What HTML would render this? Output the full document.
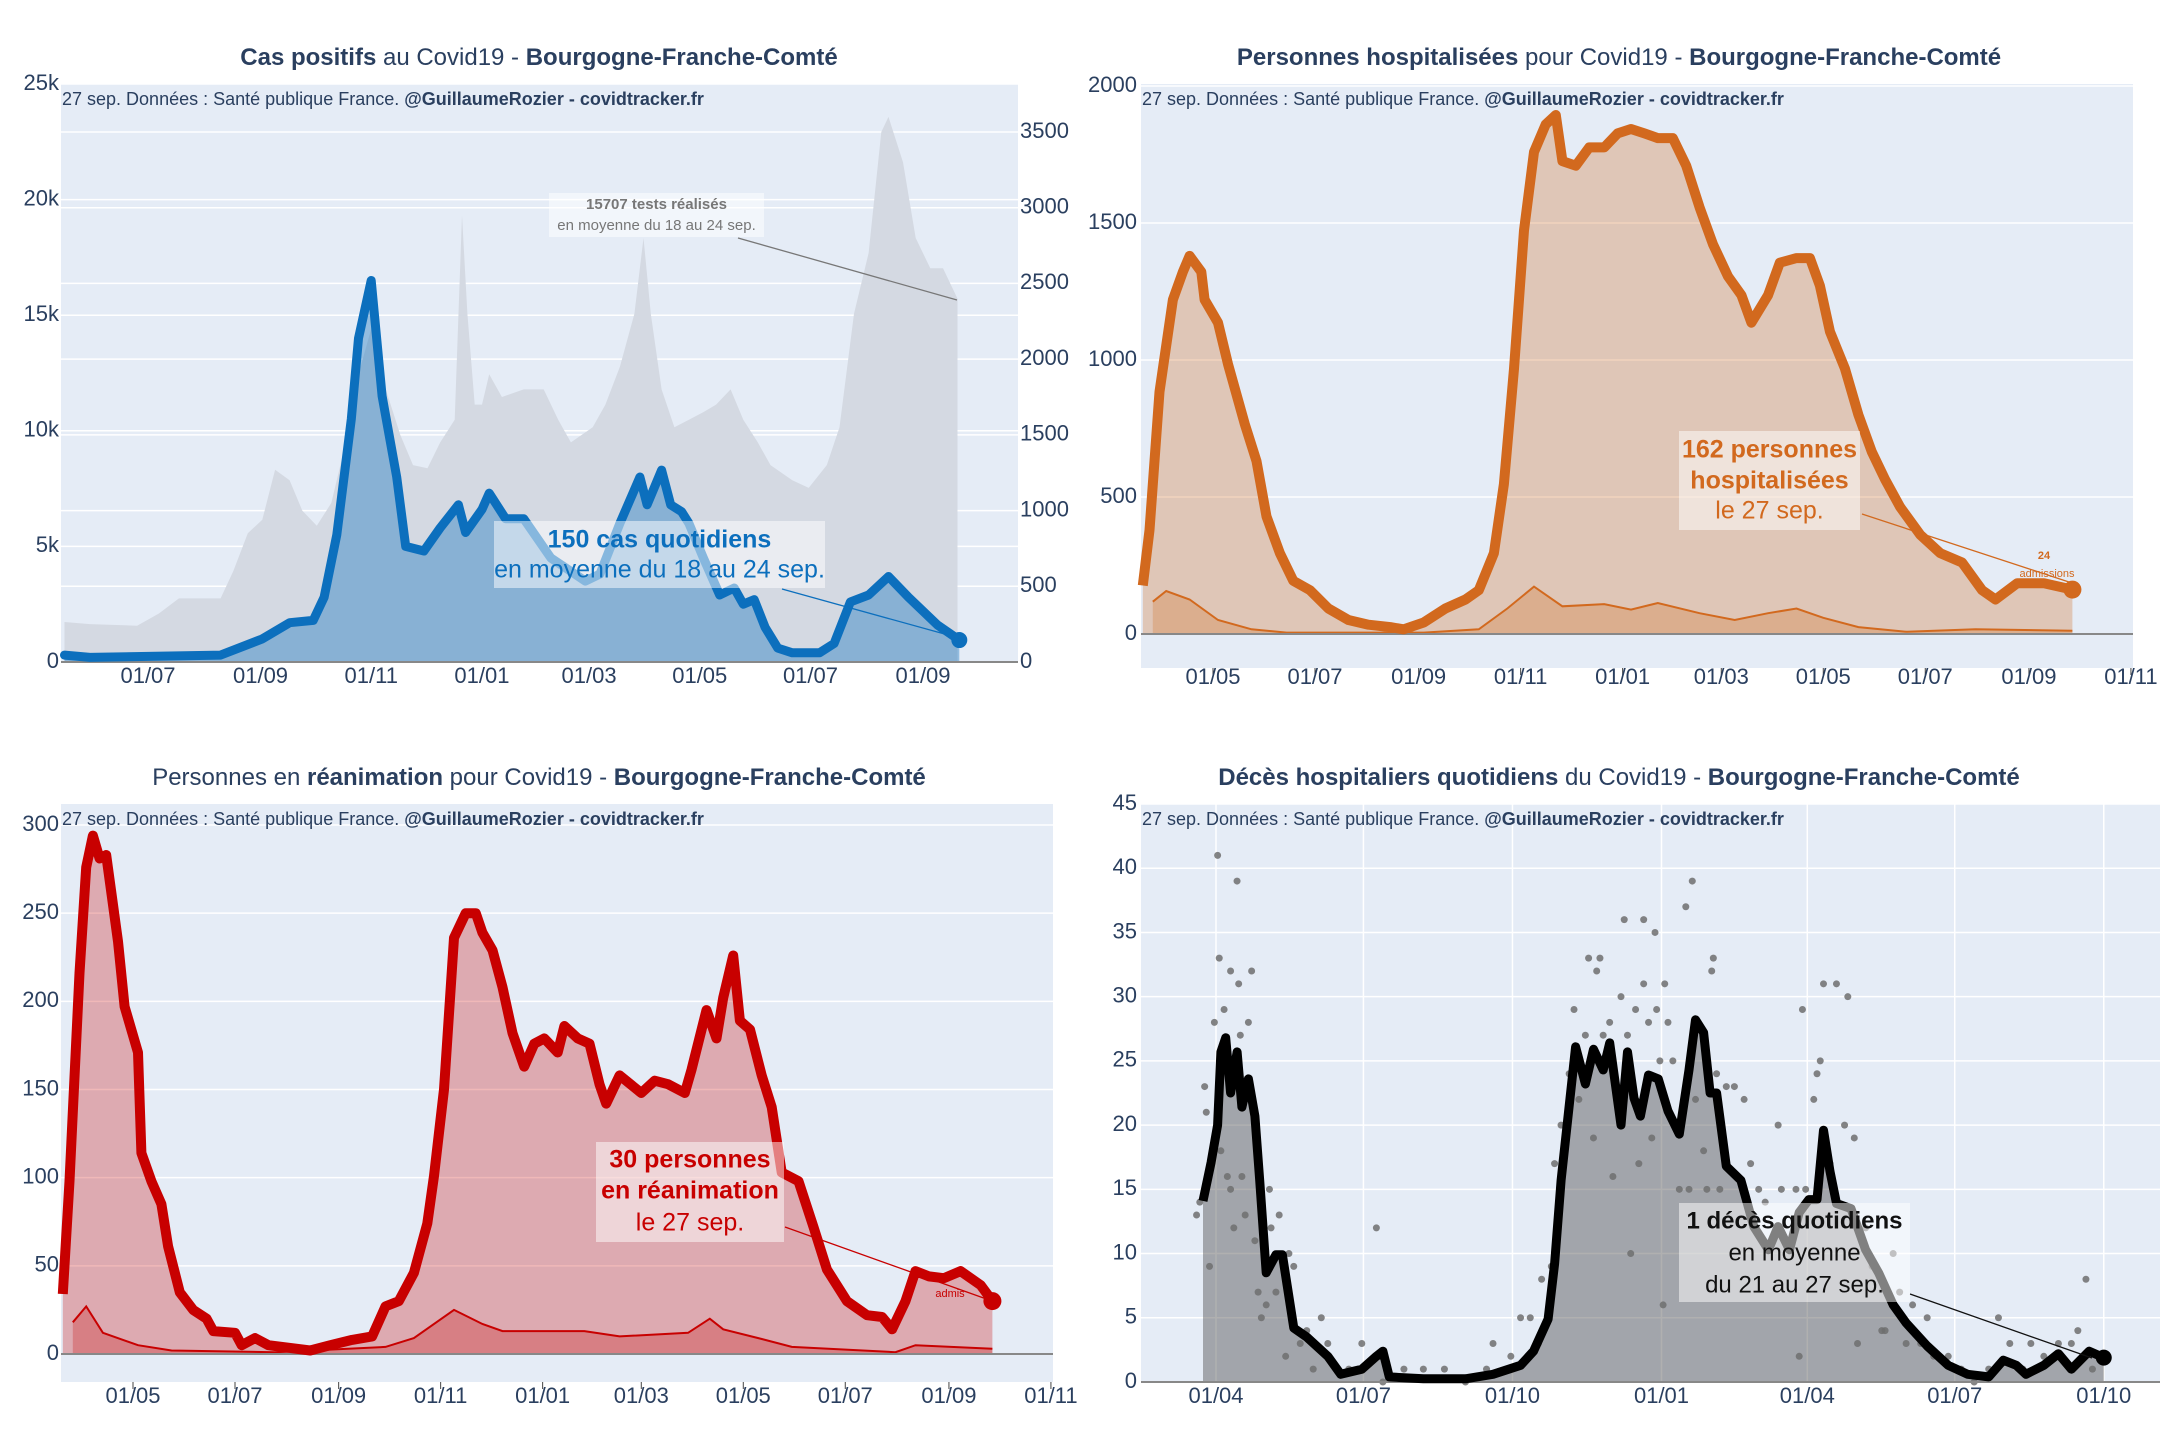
<!DOCTYPE html>
<html><head><meta charset="utf-8">
<style>
html,body{margin:0;padding:0;background:#fff;}
svg{display:block;font-family:"Liberation Sans",sans-serif;}
</style></head>
<body>
<svg id="root" width="2160" height="1440" viewBox="0 0 2160 1440" xmlns="http://www.w3.org/2000/svg"></svg>
<script>
// ---------- Chart 1: cases (days since 2020-07-01) ----------
const casesDays = [-46,-32,40,63,78,91,97,104,112,116,123,129,137,142,152,161,171,175,184,188,197,207,222,241,249,260,271,275,283,288,294,298,306,315,323,328,334,340,347,355,370,378,387,397,408,419,435,447];
const casesValues = [300,200,300,1000,1700,1800,2800,5500,10500,14000,16500,11500,8000,5000,4800,5800,6800,5600,6600,7300,6200,6200,4500,3500,3800,6000,8000,6800,8300,6800,6500,6000,4500,2900,3200,2500,2700,1500,600,400,400,800,2600,2900,3700,2800,1600,950];
const testsDays = [-46,-32,-6,6,17,40,47,55,63,70,78,85,93,101,108,116,123,131,139,146,154,161,169,173,176,180,184,188,195,207,218,226,233,245,252,260,268,273,277,283,290,298,306,313,321,328,336,343,355,364,374,381,389,397,404,408,416,423,431,438,446];
const testsValues = [264,250,240,320,420,420,600,850,940,1270,1200,1000,900,1050,1400,1900,2200,1800,1500,1300,1280,1450,1600,2950,2300,1700,1700,1900,1750,1800,1800,1600,1450,1550,1700,1950,2300,2800,2300,1800,1550,1600,1650,1700,1800,1600,1450,1300,1200,1150,1300,1550,2300,2700,3500,3600,3300,2800,2600,2600,2400];
const c1XTicks = ['01/07','01/09','01/11','01/01','01/03','01/05','01/07','01/09'];
const c1XTickDays = [0,62,123,184,243,304,365,427];
const c1YTicks = [0,5000,10000,15000,20000,25000];
const c1YLabels = ['0','5k','10k','15k','20k','25k'];
const c1RTicks = [0,500,1000,1500,2000,2500,3000,3500];

// ---------- Chart 2: hospitalisations (days since 2020-05-01) ----------
const hospDays = [-42,-38,-32,-24,-18,-14,-7,-5,3,9,19,26,32,40,48,58,69,81,93,106,114,126,139,151,159,168,174,180,186,192,199,205,209,217,225,234,242,250,258,266,275,283,291,299,308,316,322,332,339,349,357,363,369,378,386,394,402,411,423,435,448,460,468,481,497,514];
const hospValues = [177,379,884,1220,1322,1380,1322,1220,1136,985,766,631,429,295,194,160,93,51,34,25,17,42,93,126,160,295,547,968,1473,1759,1860,1894,1726,1709,1776,1776,1827,1843,1827,1810,1810,1709,1557,1423,1305,1237,1136,1237,1355,1372,1372,1271,1103,968,800,665,564,463,362,295,261,160,126,185,185,162];
const hospAdmDays = [-36,-28,-14,3,23,44,126,159,176,192,209,234,250,266,291,312,332,349,365,386,415,456,514];
const hospAdmValues = [118,157,126,51,17,5,5,17,93,173,101,109,89,113,76,51,76,93,59,25,8,17,12];
const c2XTicks = ['01/05','01/07','01/09','01/11','01/01','01/03','01/05','01/07','01/09','01/11'];
const c2XTickDays = [0,61,123,184,245,304,365,426,488,549];
const c2YTicks = [0,500,1000,1500,2000];

// ---------- Chart 3: reanimation (days since 2020-05-01) ----------
const reaDays = [-42,-38,-32,-28,-24,-20,-16,-9,-5,3,5,11,17,21,28,36,44,48,61,65,73,81,106,118,131,143,151,159,168,176,180,186,192,199,205,209,215,221,227,234,240,246,254,258,266,273,279,283,291,304,312,320,330,334,343,349,353,359,363,369,376,382,388,398,407,415,427,439,448,454,462,468,476,485,495,507,514];
const reaValues = [34,98,216,276,294,281,283,234,197,171,114,98,85,61,35,25,20,13,12,5,9,5,2,5,8,10,27,30,46,74,101,150,236,250,250,239,229,208,182,163,176,179,171,186,179,176,153,142,158,148,155,153,148,161,195,179,202,226,189,184,158,140,103,98,72,48,30,22,21,14,30,47,44,43,47,39,30];
const reaAdmDays = [-36,-28,-18,3,23,85,151,168,192,209,221,270,291,332,345,353,374,394,456,468,514];
const reaAdmValues = [18,27,12,5,2,1,4,9,25,17,13,13,10,12,20,14,9,4,1,5,3];
const c3YTicks = [0,50,100,150,200,250,300];

// ---------- Chart 4: deaths (days since 2020-04-01) ----------
const deathDays = [-8,-3,1,3,6,9,13,16,20,24,27,31,37,41,48,56,69,77,90,99,103,107,128,154,171,188,196,205,209,213,222,228,233,239,243,250,254,258,262,267,273,279,286,292,296,301,305,309,315,324,332,341,347,354,360,366,371,375,379,383,392,401,409,418,426,439,452,464,477,486,494,500,511,520,528,539,548];
const deathValues = [14.1,17.1,20,25.7,26.8,22.5,25.7,21.4,23.6,20.7,15.7,8.5,9.9,9.9,4.2,3.5,2,0.6,1,2,2.4,0.4,0.25,0.25,0.6,1.3,2.4,4.9,9.2,15.7,26.1,23.2,25.9,24.3,26.4,20,25.7,22.1,20.7,23.9,23.6,21.1,19.3,24.3,28.2,27.2,22.5,22.5,16.8,15.7,12.1,10.3,12.1,10.3,13.2,14.2,14.2,19.6,16.4,13.9,13.5,10.3,8.5,6,4.6,2.8,1.3,0.6,0.4,1.7,1.3,0.6,1.3,2.2,1,2.4,1.9];
const dailyDeathDays = [-12,-10,-7,-6,-4,-1,1,2,3,5,7,9,9,11,13,14,15,16,18,20,22,24,26,28,31,33,34,37,39,43,45,48,52,56,60,65,69,82,90,99,103,116,128,141,154,167,171,182,188,194,199,201,207,209,213,218,221,224,228,230,233,235,237,239,243,245,250,252,254,256,259,261,264,264,267,269,271,272,274,276,277,279,282,286,290,292,294,296,301,303,306,307,309,311,315,320,326,330,335,339,343,347,349,354,358,360,362,364,369,371,373,375,379,383,388,390,394,396,401,405,411,413,418,422,426,430,435,439,443,452,460,468,477,483,490,498,503,511,520,528,532,537,541,545];
const dailyDeathValues = [13,14,23,21,9,28,41,33,18,29,16,32,15,12,39,31,27,16,13,28,32,11,7,5,6,15,12,7,13,2,10,9,3,4,1,5,3,1,3,12,0,1,1,1,0,1,3,2,5,5,3,8,9,17,20,24,29,22,27,33,19,32,33,27,28,16,30,36,27,10,29,17,36,31,28,19,35,29,25,6,31,28,25,15,37,15,39,22,18,15,32,33,24,15,23,23,22,17,15,14,11,20,15,11,15,2,29,15,22,24,25,31,17,31,20,30,19,3,12,9,4,4,10,7,3,6,3,5,2,2,1,0,1,5,3,1,3,2,3,3,4,8,1,2];
const c4XTicks = ['01/04','01/07','01/10','01/01','01/04','01/07','01/10'];
const c4XTickDays = [0,91,183,275,365,456,548];
const c4YTicks = [0,5,10,15,20,25,30,35,40,45];

const NS = 'http://www.w3.org/2000/svg';
const root = document.getElementById('root');
function mk(tag, attrs, parent, text){
  const e = document.createElementNS(NS, tag);
  for (const k in attrs) e.setAttribute(k, attrs[k]);
  if (text !== undefined) e.textContent = text;
  (parent || root).appendChild(e);
  return e;
}
function pathFrom(days, vals, sx, sy){
  let d = '';
  for (let i = 0; i < days.length; i++) d += (i ? 'L' : 'M') + sx(days[i]).toFixed(1) + ',' + sy(vals[i]).toFixed(1);
  return d;
}
function areaFrom(days, vals, sx, sy, base){
  return pathFrom(days, vals, sx, sy) + 'L' + sx(days[days.length-1]).toFixed(1) + ',' + base + 'L' + sx(days[0]).toFixed(1) + ',' + base + 'Z';
}
const TXT = '#2a3f5f';

function frame(g, x0, x1, y0, y1, cx, cy, titleParts){
  const bg = mk('rect', {x:x0, y:y0, width:x1-x0, height:y1-y0, fill:'#e5ecf6'}, g);
  
  
  const t = mk('text', {x:cx, y:cy, 'text-anchor':'middle', 'font-size':24, fill:TXT, 'dominant-baseline':'middle'}, g);
  
  
  titleParts.forEach(p => { mk('tspan', {'font-weight': p[1] ? 'bold' : 'normal'}, t, p[0]); });
}
function subtitle(g, x, y){
  const t = mk('text', {x:x, y:y, 'font-size':18, fill:TXT, 'dominant-baseline':'middle'}, g);
  
  
  mk('tspan', {}, t, '27 sep. Données : Santé publique France. ');
  mk('tspan', {'font-weight':'bold'}, t, '@GuillaumeRozier - covidtracker.fr');
}
function yAxis(g, ticks, labels, sy, x0, x1, lx, anchor, name){
  ticks.forEach((v, i) => {
    const gl = mk('line', {x1:x0, x2:x1, y1:sy(v), y2:sy(v), stroke:'#fff', 'stroke-width':1.5}, g);
    
    
    const t = mk('text', {x:lx, y:sy(v), 'text-anchor':anchor, 'dominant-baseline':'middle', 'font-size':22, fill:TXT}, g, labels ? labels[i] : String(v));
    
    
  });
}
function xAxis(g, days, labels, sx, ly, tickTop, vgrid){
  days.forEach((d, i) => {
    const x = sx(d);
    if (vgrid) {
      const gl = mk('line', {x1:x, x2:x, y1:vgrid[0], y2:vgrid[1], stroke:'#fff', 'stroke-width':1.5}, g);
      
      
    }
    if (tickTop !== null) {
      const tk = mk('line', {x1:x, x2:x, y1:tickTop, y2:tickTop+7, stroke:'#444', 'stroke-width':1}, g);
      
      
    }
    const t = mk('text', {x:x, y:ly, 'text-anchor':'middle', 'dominant-baseline':'middle', 'font-size':22, fill:TXT}, g, labels[i]);
    
    
  });
}
function annot(g, box, lines, color, size, arrow){
  if (arrow) {
    const a = mk('line', {x1:arrow[0], y1:arrow[1], x2:arrow[2], y2:arrow[3], stroke:color, 'stroke-width':1.3}, g);
    
    
  }
  const r = mk('rect', {x:box[0], y:box[1], width:box[2]-box[0], height:box[3]-box[1], fill:'rgba(255,255,255,0.5)'}, g);
  
  
  const cx = (box[0]+box[2])/2;
  lines.forEach(l => {
    const t = mk('text', {x:cx, y:l[1], 'text-anchor':'middle', 'dominant-baseline':'middle', 'font-size':size, 'font-weight': l[2] ? 'bold' : 'normal', fill:color}, g, l[0]);
    
    
  });
}

// ===== Chart 1 =====
(function(){
  const g = mk('g', {});
  
  
  const sx = d => 148 + d * 1.815;
  const sy = v => 662 - v * 578 / 25000;
  const sr = v => 662 - v * 530 / 3500;
  frame(g, 61, 1018, 84, 662, 539, 59, [['Cas positifs',1],[' au Covid19 - ',0],['Bourgogne-Franche-Comté',1]]);
  yAxis(g, c1RTicks, null, sr, 61, 1018, 1020, 'start', 'right-y-tick-label');
  yAxis(g, c1YTicks, c1YLabels, sy, 61, 1018, 59, 'end', 'left-y-tick-label');
  const tests = mk('path', {d: areaFrom(testsDays, testsValues, sx, sr, 662), fill:'#d4d9e2'}, g);
  
  
  const fill = mk('path', {d: areaFrom(casesDays, casesValues, sx, sy, 662), fill:'rgba(12,112,189,0.38)'}, g);
  
  
  const base = mk('line', {x1:61, x2:1018, y1:662, y2:662, stroke:'#888', 'stroke-width':2}, g);
  
  
  const ln = mk('path', {d: pathFrom(casesDays, casesValues, sx, sy), fill:'none', stroke:'#0c6fbd', 'stroke-width':9, 'stroke-linejoin':'round', 'stroke-linecap':'round'}, g);
  
  
  const n = casesDays.length - 1;
  const dot = mk('circle', {cx:sx(casesDays[n]), cy:sy(casesValues[n]), r:8, fill:'#0c6fbd'}, g);
  
  
  xAxis(g, c1XTickDays, c1XTicks, sx, 677, null, null);
  subtitle(g, 62, 100);
  annot(g, [549,193,764,237], [['15707 tests réalisés',205,1],['en moyenne du 18 au 24 sep.',226,0]], '#777', 15, [738,238,957,300]);
  annot(g, [494,521,825,588], [['150 cas quotidiens',541,1],['en moyenne du 18 au 24 sep.',571,0]], '#0c6fbd', 25, [782,589,959,638]);
})();

// ===== Chart 2 =====
(function(){
  const g = mk('g', {});
  
  
  const sx = d => 1213 + d * 1.672;
  const sy = v => 634 - v * 548 / 2000;
  frame(g, 1141, 2133, 84, 668, 1619, 59, [['Personnes hospitalisées',1],[' pour Covid19 - ',0],['Bourgogne-Franche-Comté',1]]);
  yAxis(g, c2YTicks, null, sy, 1141, 2133, 1137, 'end', 'y-tick-label');
  const fill = mk('path', {d: areaFrom(hospDays, hospValues, sx, sy, 634), fill:'rgba(209,102,21,0.28)'}, g);
  
  
  const af = mk('path', {d: areaFrom(hospAdmDays, hospAdmValues, sx, sy, 634), fill:'rgba(209,102,21,0.25)'}, g);
  
  
  const al = mk('path', {d: pathFrom(hospAdmDays, hospAdmValues, sx, sy), fill:'none', stroke:'#d2691e', 'stroke-width':2}, g);
  
  
  const base = mk('line', {x1:1141, x2:2133, y1:634, y2:634, stroke:'#888', 'stroke-width':2}, g);
  
  
  const ln = mk('path', {d: pathFrom(hospDays, hospValues, sx, sy), fill:'none', stroke:'#d2691e', 'stroke-width':10, 'stroke-linejoin':'round'}, g);
  
  
  const n = hospDays.length - 1;
  const dot = mk('circle', {cx:sx(hospDays[n]), cy:sy(hospValues[n]), r:9, fill:'#d2691e'}, g);
  
  
  xAxis(g, c2XTickDays, c2XTicks, sx, 678, 668, null);
  subtitle(g, 1142, 100);
  annot(g, [1679,431,1860,530], [['162 personnes',451,1],['hospitalisées',482,1],['le 27 sep.',512,0]], '#d2691e', 25, [1862,514,2072,583]);
  const s1 = mk('text', {x:2044, y:559, 'text-anchor':'middle', 'font-size':11, 'font-weight':'bold', fill:'#d2691e'}, g, '24');
  
  
  const s2 = mk('text', {x:2047, y:577, 'text-anchor':'middle', 'font-size':11, fill:'#d2691e'}, g, 'admissions');
  
  
})();

// ===== Chart 3 =====
(function(){
  const g = mk('g', {});
  
  
  const sx = d => 133 + d * 1.672;
  const sy = v => 1354 - v * 529 / 300;
  frame(g, 61, 1053, 804, 1382, 539, 779, [['Personnes en ',0],['réanimation',1],[' pour Covid19 - ',0],['Bourgogne-Franche-Comté',1]]);
  yAxis(g, c3YTicks, null, sy, 61, 1053, 59, 'end', 'y-tick-label');
  const fill = mk('path', {d: areaFrom(reaDays, reaValues, sx, sy, 1354), fill:'rgba(200,0,0,0.28)'}, g);
  
  
  const af = mk('path', {d: areaFrom(reaAdmDays, reaAdmValues, sx, sy, 1354), fill:'rgba(200,0,0,0.25)'}, g);
  
  
  const al = mk('path', {d: pathFrom(reaAdmDays, reaAdmValues, sx, sy), fill:'none', stroke:'#c80000', 'stroke-width':2}, g);
  
  
  const base = mk('line', {x1:61, x2:1053, y1:1354, y2:1354, stroke:'#888', 'stroke-width':2}, g);
  
  
  const ln = mk('path', {d: pathFrom(reaDays, reaValues, sx, sy), fill:'none', stroke:'#c80000', 'stroke-width':10, 'stroke-linejoin':'round'}, g);
  
  
  const n = reaDays.length - 1;
  const dot = mk('circle', {cx:sx(reaDays[n]), cy:sy(reaValues[n]), r:9, fill:'#c80000'}, g);
  
  
  xAxis(g, c2XTickDays, c2XTicks, sx, 1397, 1382, null);
  subtitle(g, 62, 820);
  annot(g, [596,1142,784,1242], [['30 personnes',1161,1],['en réanimation',1192,1],['le 27 sep.',1224,0]], '#c80000', 25, [785,1227,992,1301]);
  const s = mk('text', {x:950, y:1297, 'text-anchor':'middle', 'font-size':11, fill:'#c80000'}, g, 'admis');
  
  
})();

// ===== Chart 4 =====
(function(){
  const g = mk('g', {});
  
  
  const sx = d => 1216 + d * 1.620;
  const sy = v => 1382 - v * 578 / 45;
  frame(g, 1141, 2160, 804, 1382, 1619, 779, [['Décès hospitaliers quotidiens',1],[' du Covid19 - ',0],['Bourgogne-Franche-Comté',1]]);
  yAxis(g, c4YTicks, null, sy, 1141, 2160, 1137, 'end', 'y-tick-label');
  xAxis(g, c4XTickDays, c4XTicks, sx, 1397, null, [804,1382]);
  const fill = mk('path', {d: areaFrom(deathDays, deathValues, sx, sy, 1382), fill:'rgba(80,80,80,0.45)'}, g);
  
  
  for (let i = 0; i < dailyDeathDays.length; i++) {
    const c = mk('circle', {cx:sx(dailyDeathDays[i]), cy:sy(dailyDeathValues[i]), r:3.5, fill:'rgba(110,110,110,0.85)'}, g);
    
    
  }
  const base = mk('line', {x1:1141, x2:2160, y1:1382, y2:1382, stroke:'#888', 'stroke-width':2}, g);
  
  
  const ln = mk('path', {d: pathFrom(deathDays, deathValues, sx, sy), fill:'none', stroke:'#000', 'stroke-width':9, 'stroke-linejoin':'round'}, g);
  
  
  const n = deathDays.length - 1;
  const dot = mk('circle', {cx:sx(deathDays[n]), cy:sy(deathValues[n]), r:8, fill:'#000'}, g);
  
  
  subtitle(g, 1142, 820);
  annot(g, [1679,1203,1910,1302], [['1 décès quotidiens',1222,1],['en moyenne',1254,0],['du 21 au 27 sep.',1286,0]], '#111', 24, [1910,1294,2092,1358]);
})();
</script>
</body></html>
